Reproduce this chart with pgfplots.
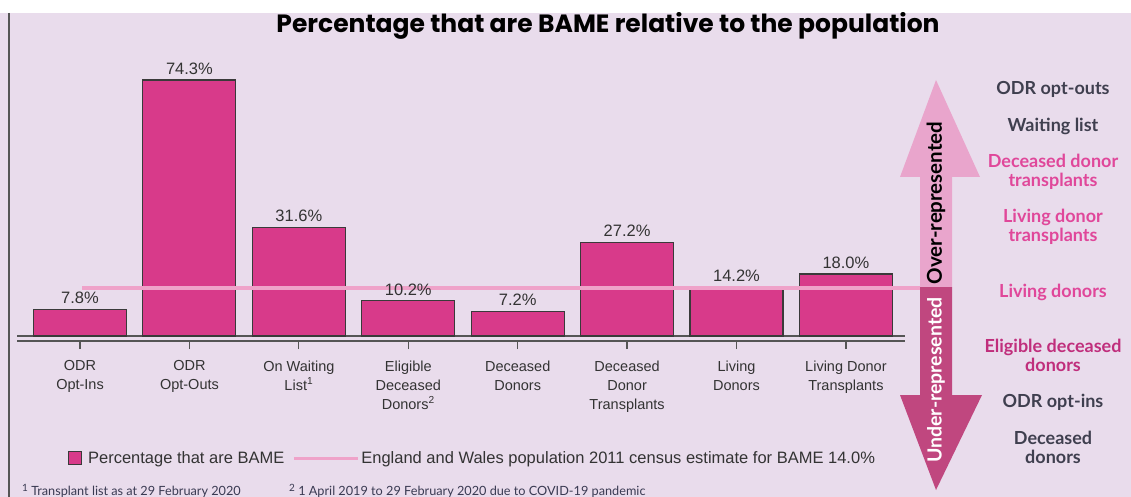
\documentclass[border=0pt]{standalone}
\usepackage{fontspec}
\setmainfont{Liberation Sans}
\newfontfamily\titlefont{Poppins}
\newfontfamily\latofont{Lato}
\usepackage{pgfplots}
\pgfplotsset{compat=1.18}
\definecolor{bg}{HTML}{E9DCEC}
\definecolor{barc}{HTML}{D83A8A}
\definecolor{bord}{HTML}{3A3A3A}
\definecolor{refl}{HTML}{EFA2C9}
\definecolor{axg}{HTML}{555555}
\definecolor{arup}{HTML}{E9A5CC}
\definecolor{ardn}{HTML}{C0477F}
\definecolor{labdark}{HTML}{3F3F4F}
\definecolor{labpink}{HTML}{E0479A}
\definecolor{labelig}{HTML}{C02E7C}
\definecolor{txt}{HTML}{333333}
\definecolor{foot}{HTML}{3A3A52}
\newcommand{\fsup}[1]{\raisebox{3.5pt}{\fontsize{10}{10}\selectfont #1}}
\begin{document}
\begin{tikzpicture}
\useasboundingbox (0,0) rectangle (1131pt,-497pt);
\clip (0,0) rectangle (1131pt,-497pt);
\fill[white] (0,0) rectangle (1131pt,-497pt);
\fill[bg] (0,-13pt) rectangle (1131pt,-497pt);
\draw[axg, line width=2pt] (8.5pt,-13pt) -- (8.5pt,-497pt);
\node[font=\titlefont\bfseries\fontsize{25}{29}\selectfont, text=black] at (608pt,-26pt) {Percentage that are BAME relative to the population};
\begin{axis}[
  at={(17pt,-341pt)}, anchor=south west,
  scale only axis, width=888pt, height=280.6pt,
  xmin=-0.576, xmax=7.54, ymin=-1.45, ymax=80,
  clip=false,
  axis x line*=bottom, axis y line=none,
  axis line style={-, axg, line width=1.3pt},
  xtick={0,1,2,3,4,5,6,7},
  xticklabels={{ODR\\Opt-Ins},{ODR\\Opt-Outs},{On Waiting\\List\textsuperscript{1}},{Eligible\\Deceased\\Donors\textsuperscript{2}},{Deceased\\Donors},{Deceased\\Donor\\Transplants},{Living\\Donors},{Living Donor\\Transplants}},
  xticklabel style={align=center, font=\fontsize{14.5}{19}\selectfont, text=txt, yshift=-8pt},
  ytick=\empty,
  tick align=outside, major tick length=8pt,
  tick style={axg, line width=1.2pt},
  /pgf/number format/assume math mode=true,
  legend style={at={(0.513,-0.417)}, anchor=center, draw=none, fill=none,
    legend columns=2, font=\fontsize{16.5}{19}\selectfont, text=txt,
    /tikz/every even column/.append style={column sep=6pt}},
]
\draw[axg, line width=1.3pt] (axis cs:-0.576,0) -- (axis cs:7.54,0);
\addplot[ybar, bar width=93pt, fill=barc, draw=bord, line width=1.1pt,
  legend image code/.code={\draw[fill=barc, draw=bord, line width=0.9pt] (0pt,-6pt) rectangle (13pt,7pt); \path (17pt,0pt);},
  nodes near coords={\pgfmathprintnumber[fixed,fixed zerofill,precision=1]{\pgfplotspointmeta}\%},
  every node near coord/.append style={font=\fontsize{16.5}{18}\selectfont, text=txt, yshift=1.5pt}]
  coordinates {(0,7.8) (1,74.3) (2,31.6) (3,10.2) (4,7.2) (5,27.2) (6,14.2) (7,18.0)};
\addlegendentry{Percentage that are BAME}
\addplot[refl, line width=3.5pt, legend image code/.code={\draw[refl, line width=3pt] (0pt,0pt) -- (64pt,0pt);}]
  coordinates {(0.02,14) (7.68,14)};
\addlegendentry{England and Wales population 2011 census estimate for BAME 14.0\%}
\end{axis}
% arrow
\fill[arup] (936pt,-80pt) -- (980pt,-177pt) -- (952pt,-177pt) -- (952pt,-287pt) -- (920pt,-287pt) -- (920pt,-177pt) -- (900pt,-177pt) -- cycle;
\fill[ardn] (920pt,-287pt) -- (952pt,-287pt) -- (952pt,-395pt) -- (982pt,-395pt) -- (936pt,-490pt) -- (900pt,-395pt) -- (920pt,-395pt) -- cycle;
\node[rotate=90, font=\latofont\bfseries\fontsize{20.5}{22}\selectfont, text=black] at (936pt,-203pt) {Over-represented};
\node[rotate=90, font=\latofont\bfseries\fontsize{19.5}{22}\selectfont, text=white] at (936pt,-380pt) {Under-represented};
% right labels
\begin{scope}[every node/.style={font=\latofont\bfseries\fontsize{18}{19}\selectfont, align=center}]
\node[text=labdark] at (1053pt,-89pt) {ODR opt-outs};
\node[text=labdark] at (1053pt,-126pt) {Waiting list};
\node[text=labpink] at (1053pt,-172pt) {Deceased donor\\transplants};
\node[text=labpink] at (1053pt,-227pt) {Living donor\\transplants};
\node[text=labpink] at (1053pt,-292pt) {Living donors};
\node[text=labelig] at (1053pt,-355pt) {Eligible deceased\\donors};
\node[text=labdark] at (1053pt,-402pt) {ODR opt-ins};
\node[text=labdark] at (1053pt,-447pt) {Deceased\\donors};
\end{scope}
% footnotes
\node[anchor=base west, inner sep=0pt, font=\latofont\fontsize{12.7}{14}\selectfont, text=foot] at (22pt,-495pt) {\fsup{1} Transplant list as at 29 February 2020};
\node[anchor=base west, inner sep=0pt, font=\latofont\fontsize{12.7}{14}\selectfont, text=foot] at (289pt,-495pt) {\fsup{2} 1 April 2019 to 29 February 2020 due to COVID-19 pandemic};
\end{tikzpicture}
\end{document}
